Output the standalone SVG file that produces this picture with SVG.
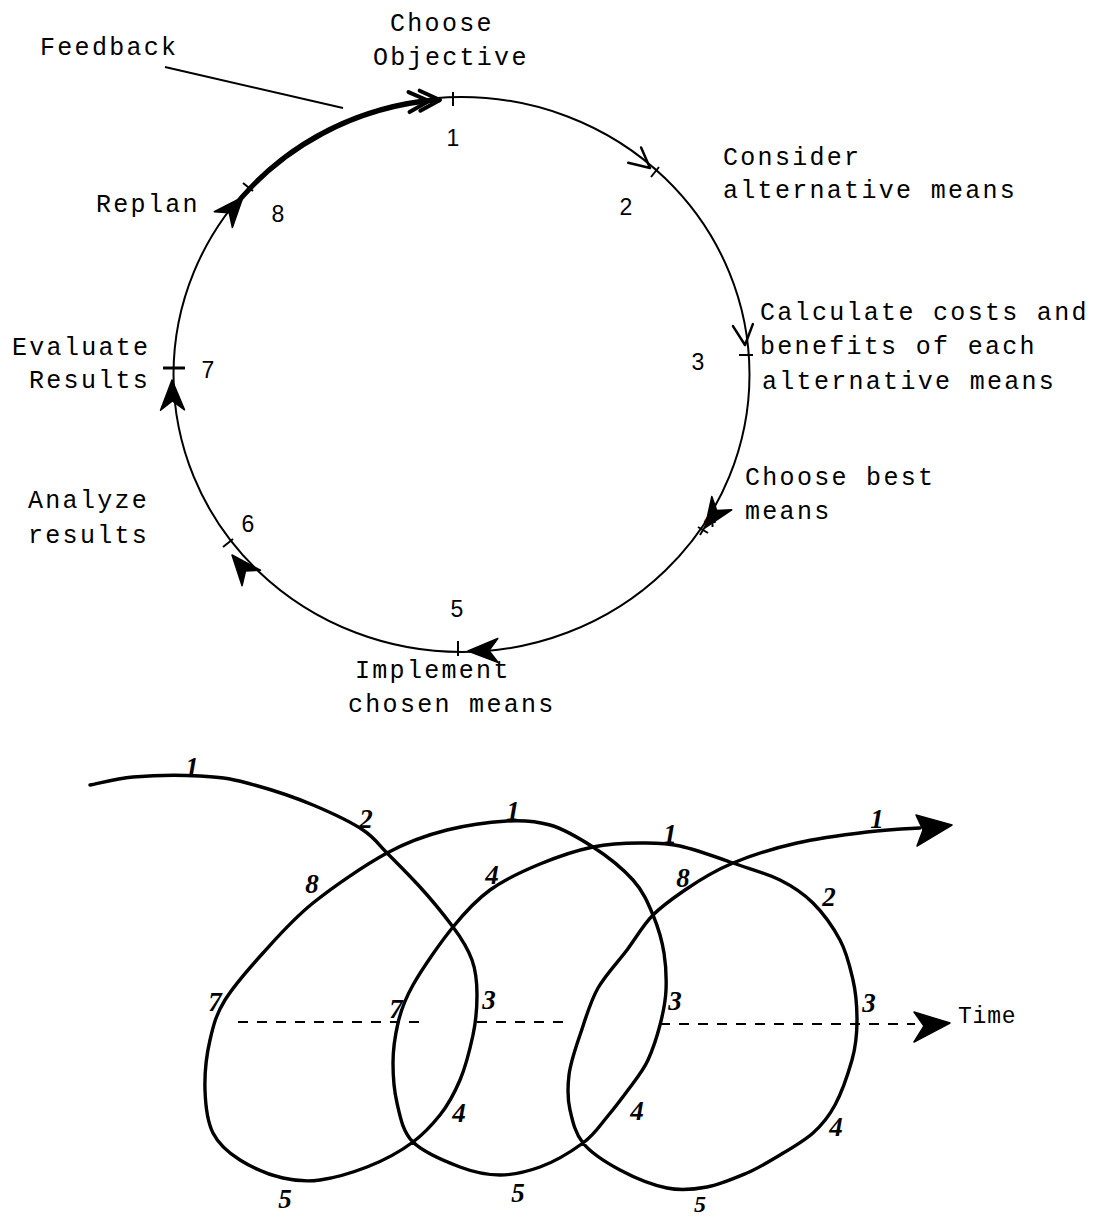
<svg xmlns="http://www.w3.org/2000/svg" width="1094" height="1218" viewBox="0 0 1094 1218">
<style>
.t{font-family:"Liberation Mono","DejaVu Sans Mono",monospace;font-size:25px;letter-spacing:2.3px;fill:#000}
.n{font-family:"Liberation Sans","DejaVu Sans",sans-serif;font-size:23px;fill:#000;text-anchor:middle}
.h{font-family:"Liberation Serif","DejaVu Serif",serif;font-size:27px;font-weight:bold;font-style:italic;fill:#000;text-anchor:middle}
.c{fill:none;stroke:#000;stroke-width:2}
.tick{stroke:#000;stroke-width:2;fill:none}
.dart{fill:#000;stroke:#000;stroke-width:1.5;stroke-linejoin:round}
.chev{fill:none;stroke:#000;stroke-width:2.5;stroke-linecap:round;stroke-linejoin:round}
.sp{fill:none;stroke:#000;stroke-width:3.4;stroke-linecap:round;stroke-linejoin:round}
.dash{fill:none;stroke:#000;stroke-width:2;stroke-dasharray:10 9}
</style>
<defs>
<path id="dart" d="M0,0 L-30,-12 L-21,0 L-30,12 Z"/>
<path id="chev" d="M-20,-10 L0,0 L-20,10"/>
</defs>
<rect width="1094" height="1218" fill="#fff"/>

<g id="connectors">
<ellipse cx="461.5" cy="374.5" rx="288" ry="277.5" class="c"/>
<path d="M230,212 A288,277.5 0 0 1 440,100" fill="none" stroke="#000" stroke-width="4.5"/>
<line x1="165" y1="67" x2="343" y2="108" stroke="#000" stroke-width="2"/>
<use href="#chev" class="chev" transform="translate(440,100) rotate(-2)" style="stroke-width:4"/>
<use href="#chev" class="chev" transform="translate(429,101) rotate(-3)" style="stroke-width:4"/>
<use href="#chev" class="chev" transform="translate(650,168) rotate(40)"/>
<use href="#chev" class="chev" transform="translate(745,345) rotate(84)"/>
<use href="#dart" class="dart" transform="translate(705,528) rotate(124)"/>
<use href="#dart" class="dart" transform="translate(468,651) rotate(179)"/>
<use href="#dart" class="dart" transform="translate(232,555) rotate(-130)"/>
<use href="#dart" class="dart" transform="translate(172,380) rotate(-91)"/>
<use href="#dart" class="dart" transform="translate(243,197) rotate(-49)"/>
</g>

<g id="feedback"><text class="t" x="40" y="55">Feedback</text></g>

<g id="step1">
<line class="tick" x1="453" y1="92" x2="453" y2="106"/>
<text class="t" x="390" y="31">Choose</text>
<text class="t" x="373" y="65">Objective</text>
<text class="n" x="453" y="146">1</text>
</g>
<g id="step2">
<line class="tick" x1="651" y1="177" x2="659" y2="167"/>
<text class="t" x="723" y="165">Consider</text>
<text class="t" x="723" y="198">alternative means</text>
<text class="n" x="626" y="215">2</text>
</g>
<g id="step3">
<line class="tick" x1="739" y1="355" x2="753" y2="355"/>
<text class="t" x="760" y="320">Calculate costs and</text>
<text class="t" x="760" y="354">benefits of each</text>
<text class="t" x="762" y="389">alternative means</text>
<text class="n" x="698" y="370">3</text>
</g>
<g id="step4">
<line class="tick" x1="698" y1="527" x2="708" y2="533"/>
<line class="tick" x1="700" y1="535" x2="706" y2="525"/>
<text class="t" x="745" y="485">Choose best</text>
<text class="t" x="745" y="519">means</text>
<text class="n" x="710" y="527">4</text>
</g>
<g id="step5">
<line class="tick" x1="458" y1="641" x2="458" y2="656"/>
<text class="n" x="457" y="617">5</text>
<text class="t" x="355" y="678">Implement</text>
<text class="t" x="348" y="712">chosen means</text>
</g>
<g id="step6">
<line class="tick" x1="223" y1="547" x2="233" y2="539"/>
<text class="t" x="28" y="508">Analyze</text>
<text class="t" x="28" y="543">results</text>
<text class="n" x="248" y="532">6</text>
</g>
<g id="step7">
<line x1="163" y1="368" x2="185" y2="368" stroke="#000" stroke-width="3"/>
<text class="t" x="12" y="355">Evaluate</text>
<text class="t" x="29" y="388">Results</text>
<text class="n" x="208" y="378">7</text>
</g>
<g id="step8">
<line class="tick" x1="243" y1="183" x2="253" y2="191"/>
<text class="t" x="96" y="212">Replan</text>
<text class="n" x="278" y="222">8</text>
</g>

<g id="spiral">
<path class="sp" d="M90,785 C97,784 115,778.5 133,777 C151,775.5 181,775 200,776 C219,777 228,778 247,783 C266,788 294,797 313,805 C332,813 351,822 363,830 C375,838 377.5,843.5 387,853 C396.5,862.5 409,875 420,887 C431,899 444,915 453,927 C462,939 468,949 472,960 C476,971 477,982.5 477,995 C477,1007.5 476,1021 473,1035 C470,1049 465.5,1067 460,1080 C454.5,1093 448,1105 440,1115 C432,1125 425,1133 413,1142 C401,1151 382.5,1161 367,1167 C351.5,1173 334,1178 320,1180 C306,1182 296,1181 283,1178 C270,1175 252,1167.5 240,1160 C228,1152.5 219,1145 213,1133 C207,1121 205.5,1105.5 205,1090 C204.5,1074.5 206.5,1055 210,1040 C213.5,1025 216,1014.5 225,1000 C234,985.5 248.5,969 263,953 C277.5,937 292.5,919.5 313,903 C333.5,886.5 365,865 387,853 C409,841 427,835 447,830 C467,825 490,822 507,821 C524,820 536,821 550,825 C564,829 579,838 593,847 C607,856 623,869 633,880 C643,891 648,903 653,915 C658,927 662,940.5 664,953 C666,965.5 666.5,978 666,990 C665.5,1002 663,1013.5 660,1025 C657,1036.5 653,1049 648,1060 C643,1071 635,1080.5 628,1090 C621,1099.5 614.5,1108 607,1117 C599.5,1126 594,1135 583,1143 C572,1151 554,1162 540,1167 C526,1172 513,1175 500,1175 C487,1175 474.5,1172.5 460,1167 C445.5,1161.5 423.5,1152.5 413,1142 C402.5,1131.5 400,1116 397,1103 C394,1090 393,1076.5 393,1063 C393,1049.5 395,1036 398,1023 C401,1010 404,1001 413,985 C422,969 440,943 453,927 C466,911 475.5,900.5 490,890 C504.5,879.5 523,871 540,864 C557,857 576,850.5 593,847 C610,843.5 625.5,843 640,843 C654.5,843 664.5,842.5 680,846 C695.5,849.5 716,857 733,863 C750,869 767,873.5 780,880 C793,886.5 803,893 813,903 C823,913 833,927 840,940 C847,953 850,967 853,980 C856,993 857,1007 857,1020 C857,1033 856,1046 852,1060 C848,1074 841.5,1093 835,1105 C828.5,1117 822,1125 813,1133 C804,1141 791,1148.5 780,1155 C769,1161.5 759,1168 747,1173 C735,1178 720,1184.5 707,1187 C694,1189.5 681.5,1191 667,1188 C652.5,1185 634,1177.5 620,1170 C606,1162.5 591,1153 583,1143 C575,1133 572.5,1121 570,1110 C567.5,1099 567.5,1087.5 569,1075 C570.5,1062.5 575,1049.5 580,1035 C585,1020.5 590,1002 598,988 C606,974 618,962 627,950 C636,938 643,925 653,915 C663,905 672,899 685,890 C698,881 714,871 733,863 C752,855 775,848 797,843 C819,838 846.5,834.5 867,832 C887.5,829.5 911,828.5 920,828"/>
<polygon points="952,825 916,815 923,830 917,846" fill="#000" stroke="#000" stroke-width="1.5" stroke-linejoin="round"/>
<path class="dash" d="M238,1022 H425 M477,1022 H572 M660,1024 H915"/>
<polygon points="950,1023 914,1012 924,1026 914,1042" fill="#000" stroke="#000" stroke-width="1.5" stroke-linejoin="round"/>
<text x="958" y="1023" style="font-family:'Liberation Mono','DejaVu Sans Mono',monospace;font-size:23px;letter-spacing:0.8px">Time</text>
<text class="h" x="192" y="776">1</text>
<text class="h" x="366" y="828">2</text>
<text class="h" x="489" y="1009">3</text>
<text class="h" x="459" y="1122">4</text>
<text class="h" x="285" y="1208">5</text>
<text class="h" x="215" y="1011">7</text>
<text class="h" x="312" y="893">8</text>
<text class="h" x="513" y="820">1</text>
<text class="h" x="675" y="1010">3</text>
<text class="h" x="637" y="1120">4</text>
<text class="h" x="518" y="1202">5</text>
<text class="h" x="396" y="1018">7</text>
<text class="h" x="492" y="884">4</text>
<text class="h" x="670" y="843">1</text>
<text class="h" x="829" y="906">2</text>
<text class="h" x="869" y="1012">3</text>
<text class="h" x="836" y="1136">4</text>
<text class="h" x="700" y="1212" style="font-size:24px">5</text>
<text class="h" x="683" y="887">8</text>
<text class="h" x="877" y="828">1</text>
</g>
</svg>
